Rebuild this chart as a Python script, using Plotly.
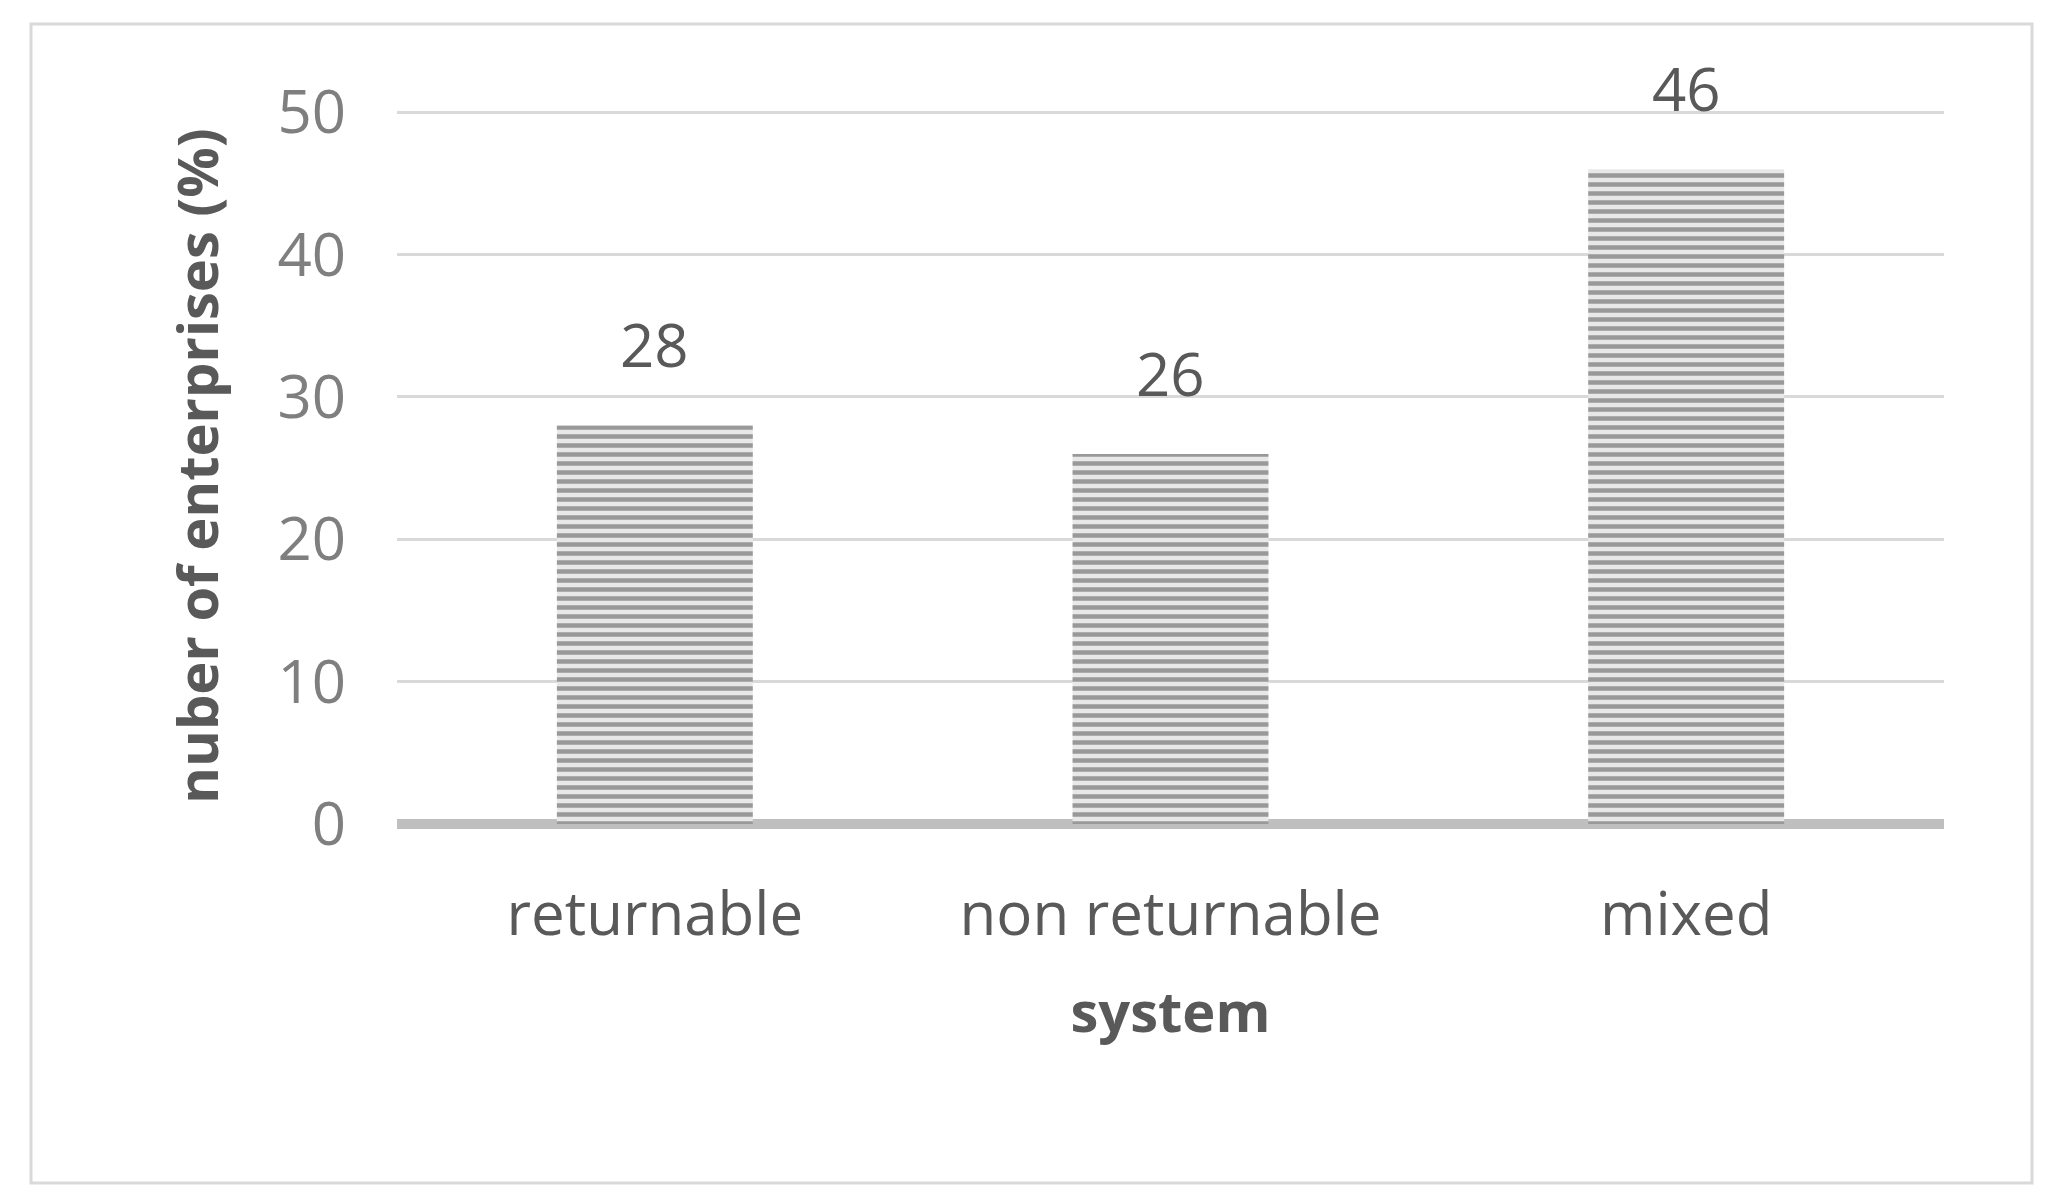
import plotly.graph_objects as go

categories = ["returnable", "non returnable", "mixed"]
values = [28, 26, 46]
y_ticks = [0, 10, 20, 30, 40, 50]

fig = go.Figure(go.Bar(
    x=categories, y=values, width=0.38,
    marker=dict(color="#d0d0d0", line=dict(width=0),
                pattern=dict(shape="-", fgcolor="#4a4a4a", bgcolor="#e8e8e8", size=9, solidity=0.5)),
))
for c, v in zip(categories, values):
    fig.add_annotation(x=c, y=v, text=str(v), showarrow=False, yanchor="bottom", yshift=38,
                       font=dict(size=60, color="#595959", family="Open Sans"))
fig.update_layout(
    width=2047, height=1192,
    margin=dict(l=389, r=111, t=100, b=376),
    paper_bgcolor="white", plot_bgcolor="white",
    font=dict(family="Open Sans", color="#595959"),
    showlegend=False,
    xaxis=dict(title=dict(text="<b>system</b>", font=dict(size=56, color="#595959"), standoff=40),
               tickfont=dict(size=60, color="#595959"), ticks="", showline=False, ticklabelstandoff=50),
    yaxis=dict(range=[0, 50.3], tickvals=y_ticks, showgrid=True, gridcolor="#d9d9d9", gridwidth=3,
               zeroline=True, zerolinecolor="#bfbfbf", zerolinewidth=10,
               tickfont=dict(size=60, color="#7f7f7f"), ticklabelstandoff=50,
               title=dict(text="<b>nuber of enterprises (%)</b>", font=dict(size=56, color="#595959"), standoff=40)),
    shapes=[dict(type="rect", xref="paper", yref="paper",
                 x0=(23-389)/1547, x1=(2024-389)/1547,
                 y0=(816-1175)/716, y1=(816-16)/716,
                 line=dict(color="#d9d9d9", width=3))],
)
fig.write_html("out.html")
